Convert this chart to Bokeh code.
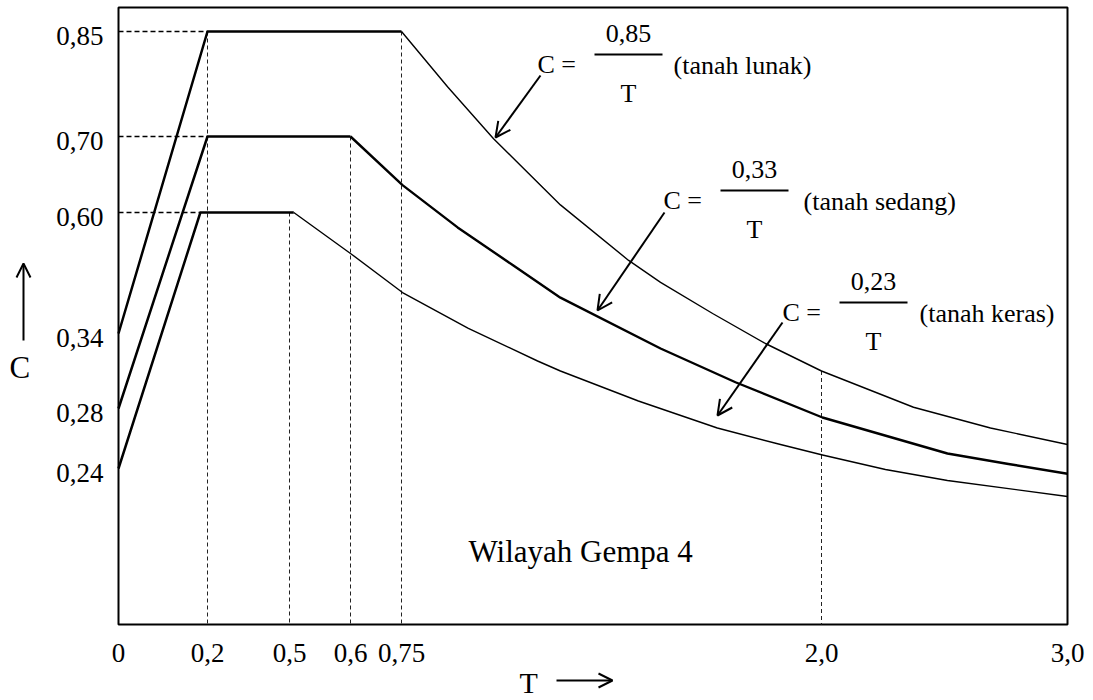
import numpy as np
from bokeh.plotting import figure
from bokeh.models import Range1d, Arrow, OpenHead, Label
from bokeh.core.properties import value
from bokeh.embed import file_html
from bokeh.resources import INLINE

# ---------------- data (in its own schematic scale) ----------------
T_TICKS = [0, 0.2, 0.5, 0.6, 0.75, 2.0, 3.0]
T_TICK_LABELS = ["0", "0,2", "0,5", "0,6", "0,75", "2,0", "3,0"]
C_TICKS = [0.24, 0.28, 0.34, 0.60, 0.70, 0.85]
C_TICK_LABELS = ["0,24", "0,28", "0,34", "0,60", "0,70", "0,85"]
T_MAX = 3.0
C_MAX = 0.884

# tanah lunak  (C = 0,85 / T)
LUNAK_T = [0, 0.2, 0.75, 0.887, 1.024, 1.223, 1.426, 1.521, 1.676, 1.833, 2.0, 2.374, 2.687, 3.0]
LUNAK_C = [0.34, 0.85, 0.85, 0.771, 0.697, 0.610, 0.497, 0.450, 0.383, 0.332, 0.310, 0.281, 0.267, 0.256]
# tanah sedang (C = 0,33 / T)
SEDANG_T = [0, 0.2, 0.6, 0.753, 0.917, 1.083, 1.223, 1.521, 1.744, 2.004, 2.512, 2.76, 3.0]
SEDANG_C = [0.28, 0.70, 0.70, 0.636, 0.568, 0.486, 0.417, 0.328, 0.301, 0.274, 0.250, 0.243, 0.232]
# tanah keras  (C = 0,23 / T)
KERAS_T = [0, 0.184, 0.507, 0.6, 0.753, 0.949, 1.155, 1.223, 1.455, 1.690, 1.878, 2.004, 2.26, 2.512, 3.0]
KERAS_C = [0.24, 0.60, 0.60, 0.512, 0.428, 0.351, 0.318, 0.310, 0.286, 0.267, 0.256, 0.249, 0.2385, 0.2215, 0.197]

# reference lines (dashed)
VLINE_T = [0.2, 0.5, 0.6, 0.75, 2.0]
VLINE_C = [0.85, 0.60, 0.70, 0.85, 0.310]

# ---------------- the drawing's non-uniform (schematic) scale -> page pixels ----------------
T_SCALE_VAL = [0, 0.2, 0.5, 0.6, 0.75, 2.0, 3.0]
T_SCALE_PX = [118, 207, 289, 350, 401, 821, 1067]
C_SCALE_VAL = [0, 0.24, 0.28, 0.34, 0.60, 0.70, 0.85, 0.884]
C_SCALE_PX = [624, 468, 408, 333, 212, 136, 31, 7]


def sx(t):
    return np.interp(np.asarray(t, dtype=float), T_SCALE_VAL, T_SCALE_PX)


def sy(c):
    return np.interp(np.asarray(c, dtype=float), C_SCALE_VAL, C_SCALE_PX)


SERIF = "Liberation Serif"
W, H = 1090, 699

p = figure(frame_width=W, frame_height=H,
           x_range=Range1d(0, W), y_range=Range1d(H, 0),
           x_axis_type=None, y_axis_type=None,
           output_backend="svg", toolbar_location=None,
           min_border=0, background_fill_color="white", border_fill_color="white")
p.grid.visible = False
p.outline_line_color = None

# chart box
p.quad(left=sx([0]), right=sx([T_MAX]), bottom=sy([0]), top=sy([C_MAX]),
       fill_color=None, line_color="black", line_width=2)

# tick labels (schematic axes)
p.text(x=sx(T_TICKS), y=sy([0] * len(T_TICKS)), text=T_TICK_LABELS,
       text_font=value(SERIF), text_font_size="27px", text_color="black",
       text_align="center", text_baseline="middle", y_offset=28)
p.text(x=sx([0] * len(C_TICKS)), y=sy(C_TICKS), text=C_TICK_LABELS,
       text_font=value(SERIF), text_font_size="27px", text_color="black",
       text_align="right", text_baseline="middle", x_offset=-15, y_offset=4)

# dashed guide lines
p.segment(x0=sx([0, 0, 0]), y0=sy([LUNAK_C[1], SEDANG_C[1], KERAS_C[1]]),
          x1=sx([LUNAK_T[1], SEDANG_T[1], KERAS_T[1]]), y1=sy([LUNAK_C[1], SEDANG_C[1], KERAS_C[1]]),
          line_color="black", line_width=1.3, line_dash="5 3")
p.segment(x0=sx(VLINE_T), y0=sy(VLINE_C), x1=sx(VLINE_T), y1=sy([0] * len(VLINE_T)),
          line_color="#222222", line_width=1, line_dash="4 3")

# spectrum curves: rising + plateau part thick, decaying part series-specific
for ts, cs, w in ((LUNAK_T, LUNAK_C, 1.4), (SEDANG_T, SEDANG_C, 2.4), (KERAS_T, KERAS_C, 1.4)):
    p.line(sx(ts[:3]), sy(cs[:3]), line_color="black", line_width=2.5, line_join="round")
    p.line(sx(ts[2:]), sy(cs[2:]), line_color="black", line_width=w, line_join="round")


def lab(x, y, text, size, align="left"):
    p.add_layout(Label(x=x, y=y, text=text, text_font=SERIF, text_font_size=size,
                       text_align=align, text_baseline="middle", text_color="black"))


# formula annotations: (numerator, y of fraction bar, x of "C =", x of fraction centre, x of name)
for num, ly, x_c, x_frac, x_par, name in (
        ("0,85", 54, 537, 628, 673, "(tanah lunak)"),
        ("0,33", 190, 663, 754, 803, "(tanah sedang)"),
        ("0,23", 302, 782, 873, 919, "(tanah keras)")):
    lab(x_c, ly + 10, "C =", "26px")
    lab(x_frac, ly - 21, num, "26px", "center")
    lab(x_frac, ly + 39, "T", "26px", "center")
    lab(x_par, ly + 11, name, "26px")
    p.segment(x0=[x_frac - 34], y0=[ly], x1=[x_frac + 34], y1=[ly],
              line_color="black", line_width=2)

for xs, ys, xe, ye in ((540, 75, 495, 137), (664, 212, 597, 310), (782, 322, 717, 415)):
    p.add_layout(Arrow(end=OpenHead(size=15, line_width=2, line_color="black"),
                       x_start=xs, y_start=ys, x_end=xe, y_end=ye,
                       line_width=2, line_color="black"))

lab(468, 551, "Wilayah Gempa 4", "31px")

# axis titles with arrows
lab(9, 367, "C", "31px")
p.add_layout(Arrow(end=OpenHead(size=14, line_width=2, line_color="black"),
                   x_start=23, y_start=340, x_end=23, y_end=263,
                   line_width=2, line_color="black"))
lab(519, 682, "T", "30px")
p.add_layout(Arrow(end=OpenHead(size=14, line_width=2, line_color="black"),
                   x_start=556, y_start=680, x_end=612, y_end=680,
                   line_width=2, line_color="black"))

open("out.html", "w").write(file_html(p, INLINE))
